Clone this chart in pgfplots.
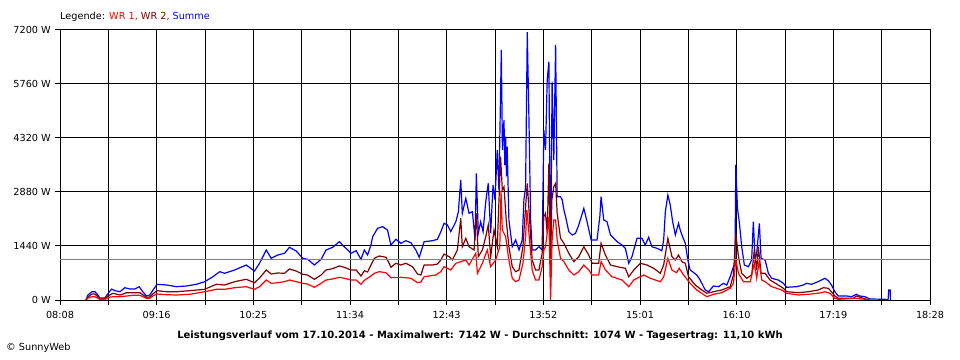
\documentclass[border=0pt]{standalone}
\usepackage{fontspec}
\setmainfont{DejaVu Sans}
\usepackage{pgfplots}
\usepackage{pgfplotstable}
\pgfplotsset{compat=1.18}
\definecolor{wrone}{RGB}{255,0,0}
\definecolor{wrtwo}{RGB}{128,0,0}
\definecolor{summe}{RGB}{0,0,255}
\definecolor{avggray}{RGB}{128,128,128}

% time in minutes of the day, power in W
\pgfplotstableread{
t W
506.5 0
507.9 133
510.8 221
512.9 221
515.0 133
516.4 53
520.0 53
521.4 133
524.8 293
527.1 248
530.7 221
534.2 328
537.8 293
541.3 293
544.4 355
547.0 221
549.6 107
552.0 133
554.3 267
557.2 419
563.9 400
571.0 355
578.1 373
585.2 419
591.1 488
597.0 621
601.8 755
605.3 712
612.4 800
620.7 933
626.6 773
630.2 979
635.0 1333
638.5 1112
643.2 1200
648.0 1245
651.5 1405
656.3 1307
661.0 1112
664.5 1085
669.3 933
674.1 1085
677.6 1333
682.3 1405
687.1 1555
690.6 1421
695.4 1245
699.0 1315
702.5 1085
704.9 1333
707.2 1200
709.6 1467
710.8 1688
714.3 1912
717.9 1955
721.4 1867
723.8 1467
727.4 1619
730.9 1512
734.5 1581
738.1 1528
741.6 1333
744.0 1139
747.5 1555
753.4 1581
757.0 1619
759.4 1821
761.7 2045
764.1 2000
766.5 1821
770.1 2088
771.9 2355
773.6 3200
774.7 2312
777.2 2712
779.5 2312
781.9 2355
783.8 1600
784.7 3379
786.1 1779
787.8 2088
789.5 1821
791.4 2621
793.2 3112
794.9 1779
796.6 3067
798.0 2667
799.6 4000
800.8 2933
802.5 6667
803.3 4000
804.4 4800
805.0 3600
805.6 4355
806.2 3300
806.7 4088
807.9 2133
810.3 1421
812.7 1600
815.1 1333
817.4 1600
818.6 2667
819.8 3021
821.0 7142
822.2 4800
823.4 2133
824.5 1333
826.9 1333
829.3 1421
831.6 1333
832.8 4533
834.0 4000
835.2 5867
836.4 6355
837.6 800
838.7 5821
839.9 3733
841.2 6800
842.3 2755
844.7 2755
845.9 2667
847.1 2400
848.3 2221
850.6 1821
853.0 1733
855.4 1779
857.7 2000
861.3 2445
863.6 2088
866.5 1600
870.7 1600
872.7 2221
873.6 2755
875.5 2133
877.8 2088
880.3 1733
885.0 1555
888.5 1467
890.9 1379
893.3 979
895.6 1155
899.2 1645
902.7 1645
905.1 1467
907.5 1672
909.8 1421
913.4 1379
916.9 1315
918.2 1600
919.4 2355
921.2 2800
922.9 2533
924.6 2088
926.5 1733
928.8 2045
930.0 1867
931.7 1688
933.6 1512
935.4 1067
937.1 800
941.8 667
944.2 533
947.8 267
950.2 221
953.7 373
957.3 355
960.8 445
963.2 400
965.6 621
967.9 888
969.0 933
969.6 3600
970.8 2445
972.2 2045
973.8 1421
975.7 933
978.6 888
980.9 1067
982.1 2088
983.4 1067
984.5 1245
986.4 2045
987.6 1112
990.5 1067
992.8 712
995.2 579
999.9 533
1003.5 445
1005.8 339
1012.9 355
1017.7 400
1020.0 445
1023.6 419
1027.2 472
1030.7 533
1033.1 579
1035.5 515
1037.8 400
1040.2 221
1042.6 107
1048.5 107
1052.0 88
1055.6 152
1058.0 107
1061.6 88
1065.1 27
1076.0 19
1078.1 0
1078.6 267
1079.6 267
1079.8 0
}\summetab

\pgfplotstableread{
t W
506.5 0
507.9 80
510.8 160
512.9 160
516.4 27
520.0 27
522.1 107
525.7 179
530.7 133
535.6 195
541.3 195
544.9 195
549.6 72
552.0 80
554.1 160
557.0 248
564.1 221
571.2 221
580.4 248
591.1 285
599.4 419
605.3 400
612.4 488
620.7 552
626.6 461
630.2 587
635.0 800
638.5 693
643.0 720
648.0 712
651.5 827
656.3 773
661.0 685
664.3 667
669.3 552
674.1 667
677.6 800
682.1 835
687.1 907
690.6 872
695.4 800
699.0 800
702.5 640
704.9 781
707.2 747
709.6 933
712.0 1112
715.5 1173
720.3 1139
722.6 979
723.8 872
727.4 979
730.9 933
734.5 979
739.2 888
742.8 693
745.2 667
747.5 933
753.4 933
757.0 960
759.4 1067
761.7 1227
765.3 1155
767.6 1067
771.2 1333
773.6 2179
774.7 1421
777.2 1645
779.5 1421
783.1 1333
784.7 2312
786.1 1155
789.0 1333
791.4 1688
793.2 2000
794.9 1155
797.3 1867
799.6 1421
802.0 3821
803.2 2933
804.4 3021
806.0 2133
807.9 1421
810.3 888
812.7 755
815.1 800
817.9 1421
819.8 2488
821.0 3112
822.2 2400
824.5 1067
826.9 800
829.3 800
831.6 1245
832.8 2221
834.0 2312
835.2 1779
836.4 3645
837.6 933
838.5 2667
839.9 3021
841.2 3112
842.3 2312
844.7 1645
847.1 1512
850.6 1245
854.2 1021
857.7 1155
861.3 1421
864.8 1200
867.2 979
871.9 979
873.6 1512
876.7 1200
880.3 933
885.0 888
890.9 845
893.3 621
896.9 800
901.6 979
906.3 933
911.1 845
915.8 712
918.2 933
921.2 1645
924.1 1155
926.5 1067
928.8 1200
931.2 1021
933.6 979
935.9 621
940.7 400
945.4 267
948.9 179
953.7 221
959.6 267
965.6 355
967.9 667
969.6 1779
971.5 1155
973.8 712
977.4 579
980.9 667
982.8 1333
984.5 800
985.7 1421
987.6 712
990.5 712
994.0 533
999.9 400
1003.5 312
1005.8 221
1014.2 195
1021.3 221
1028.4 267
1032.0 328
1035.5 312
1037.8 221
1040.2 107
1042.6 45
1053.3 45
1055.6 107
1060.4 45
1065.1 0
}\wrtwotab

\pgfplotstableread{
t W
506.5 0
507.9 53
510.8 88
512.9 88
516.4 19
520.0 19
523.6 80
527.1 88
530.7 88
535.6 107
539.9 125
544.9 125
549.6 45
552.0 45
554.1 107
557.0 160
564.1 141
571.2 133
580.4 152
591.1 221
599.4 285
605.3 285
612.4 328
620.7 355
626.6 285
630.2 355
635.0 533
638.5 445
643.0 461
648.0 488
651.5 533
656.3 488
661.0 445
664.3 427
669.3 339
674.1 445
677.6 533
682.1 560
687.1 605
690.6 579
695.4 533
699.0 533
702.5 419
704.9 525
709.6 640
712.0 712
715.5 755
720.3 728
723.8 595
730.9 605
738.1 579
742.8 461
745.2 480
747.5 621
755.8 667
759.4 755
761.7 888
766.5 800
770.1 979
773.6 1021
777.2 1067
779.5 933
784.3 1245
785.5 712
789.0 979
792.5 1333
794.9 888
798.5 1067
801.4 1421
802.3 2907
803.2 1867
805.6 1688
807.9 1067
810.3 579
812.7 488
815.1 533
817.9 979
819.8 1688
820.7 2400
822.2 1779
824.5 800
826.9 533
829.3 533
831.6 888
832.8 1333
834.0 1421
835.2 1779
836.4 2221
837.6 0
838.7 1600
839.9 2133
841.2 2133
842.3 1600
844.7 1112
847.1 1021
850.6 800
854.2 667
857.7 755
861.3 933
864.8 800
867.2 667
871.9 667
873.6 1021
876.7 800
881.4 621
888.5 533
893.3 355
896.9 533
904.0 667
908.7 579
915.8 488
918.2 613
921.2 1112
924.1 800
927.4 728
929.3 845
932.4 667
937.1 445
941.8 267
948.9 88
953.7 152
959.6 195
965.6 312
967.9 445
969.6 1067
971.5 712
975.1 488
979.9 488
982.8 979
984.5 579
986.2 1021
988.1 533
990.5 488
995.2 355
1002.3 267
1005.8 179
1014.2 133
1023.6 160
1030.7 195
1033.1 221
1036.7 179
1040.2 45
1042.6 19
1054.5 45
1061.6 19
1065.1 0
}\wronetab

\begin{document}
\begin{tikzpicture}
\useasboundingbox (-60bp,-60bp) rectangle (900bp,300bp);
\begin{axis}[
  at={(0,0)}, anchor=south west,
  scale only axis, width=870bp, height=270bp,
  xmin=488, xmax=1108, ymin=0, ymax=7200,
  xtick={488,556.889,625.778,694.667,763.556,832.444,901.333,970.222,1039.111,1108},
  xticklabels={08:08,09:16,10:25,11:34,12:43,13:52,15:01,16:10,17:19,18:28},
  minor xtick={522.444,591.333,660.222,729.111,798,866.889,935.778,1004.667,1073.556},
  ytick={0,1440,2880,4320,5760,7200},
  yticklabels={0 W,1440 W,2880 W,4320 W,5760 W,7200 W},
  xtick pos=left, ytick pos=left,
  tick align=outside,
  major tick length=5bp, minor tick length=5bp,
  tick style={black, line width=1bp},
  grid=both,
  major grid style={black, line width=1bp},
  minor grid style={black, line width=1bp},
  axis line style={black, line width=1bp},
  every tick label/.append style={font=\fontsize{9.7bp}{11bp}\selectfont},
  yticklabel style={inner sep=0pt, xshift=-4bp},
  xticklabel style={inner sep=0pt, yshift=-6bp},
  clip=true,
]
\addplot[summe, line width=1.2bp] table[x=t, y=W] {\summetab};
\addplot[wrtwo, line width=1.2bp] table[x=t, y=W] {\wrtwotab};
\addplot[wrone, line width=1.2bp] table[x=t, y=W] {\wronetab};
\addplot[avggray, line width=1bp] coordinates {(488,1074) (1108,1074)};
\end{axis}
\node[anchor=west, inner sep=0pt, font=\fontsize{9.7bp}{11bp}\selectfont] at (0bp,283bp)
  {Legende: \textcolor{wrone}{WR 1,} \textcolor{wrtwo}{WR 2,} \textcolor{summe}{Summe}};
\node[inner sep=0pt, font=\bfseries\fontsize{10bp}{12bp}\selectfont] at (420bp,-36bp)
  {Leistungsverlauf vom 17.10.2014 - Maximalwert: 7142 W - Durchschnitt: 1074 W - Tagesertrag: 11,10 kWh};
\node[anchor=west, inner sep=0pt, font=\fontsize{9.7bp}{11bp}\selectfont] at (-54bp,-48bp)
  {\textcopyright\ SunnyWeb};
\end{tikzpicture}
\end{document}
